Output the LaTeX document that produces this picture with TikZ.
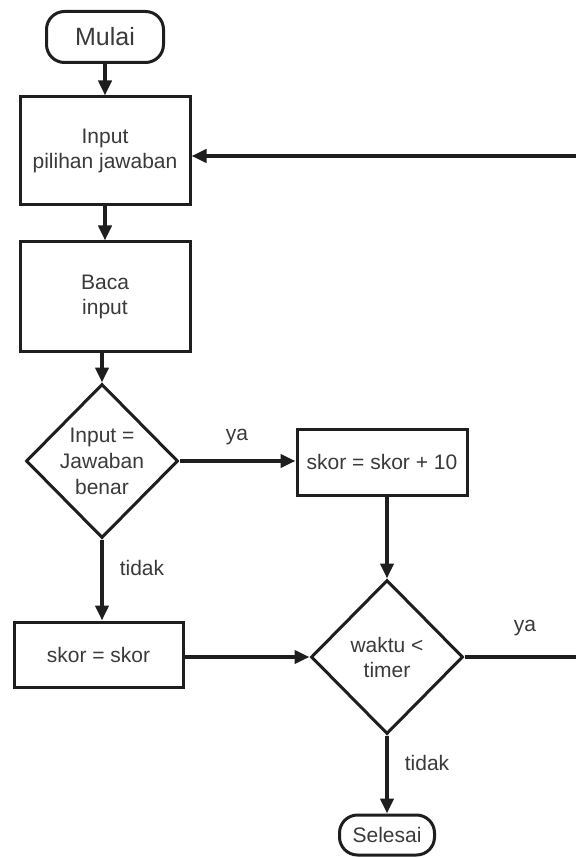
\documentclass[tikz,border=0pt]{standalone}
\usepackage{fontspec}
\setmainfont{Liberation Sans}
\usetikzlibrary{shapes.geometric,arrows.meta}
\definecolor{txt}{HTML}{3A3A3A}
\definecolor{ln}{HTML}{1E1E1E}
\begin{document}
\begin{tikzpicture}[x=1pt,y=-1pt,
  every node/.style={font=\fontsize{21}{25}\selectfont, text=txt},
  box/.style={draw=ln, line width=3pt, rectangle, align=center, inner sep=0pt},
  term/.style={draw=ln, line width=3pt, rectangle, rounded corners=18pt, inner sep=0pt},
  dec/.style={draw=ln, line width=3pt, diamond, inner sep=0pt, minimum width=152pt, minimum height=154pt},
  arr/.style={draw=ln, line width=4pt, -{Triangle[length=15pt,width=13pt]}},
  lbl/.style={inner sep=0pt}]
\useasboundingbox[fill=white] (0,0) rectangle (575,858);
\node[term, minimum width=117pt, minimum height=51pt, font=\fontsize{25}{28}\selectfont] (mulai) at (105,37) {Mulai};
\node[box, minimum width=170pt, minimum height=108pt] (input) at (105,151) {Input\\pilihan jawaban};
\node[box, minimum width=170pt, minimum height=109pt] (baca) at (105,296.5) {Baca\\input};
\node[dec, label={[align=center, text=txt, font=\fontsize{21}{26}\selectfont]center:Input =\\Jawaban\\benar}] (d1) at (102,461) {};
\node[box, minimum width=170pt, minimum height=66pt] (skor10) at (382,462) {skor = skor + 10};
\node[dec, label={[align=center, text=txt, font=\fontsize{21}{25}\selectfont]center:waktu <\\timer}] (d2) at (387,657) {};
\node[box, minimum width=169pt, minimum height=65pt] (skor) at (98.5,654.5) {skor = skor};
\node[term, minimum width=95pt, minimum height=40pt] (selesai) at (387,835) {Selesai};
\coordinate (loop) at (578,657);
\draw[arr] (mulai.south) -- (input.north);
\draw[arr] (input.south) -- (baca.north);
\draw[arr] (baca.south -| d1.north) -- (d1.north);
\draw[arr] (d1.east) -- (d1.east -| skor10.west);
\draw[arr] (skor10.south -| d2.north) -- (d2.north);
\draw[arr] (d1.south) -- (skor.north -| d1.south);
\draw[arr] (skor.east |- d2.west) -- (d2.west);
\draw[arr] (d2.south) -- (selesai.north);
\draw[arr] (d2.east) -- (loop) |- ([yshift=-5pt]input.east);
\node[lbl] (ya1) at (237,437) {ya};
\node[lbl] (ya2) at (525,628) {ya};
\node[lbl] (td1) at (142,568) {tidak};
\node[lbl] (td2) at (427,763) {tidak};
\end{tikzpicture}
\end{document}
